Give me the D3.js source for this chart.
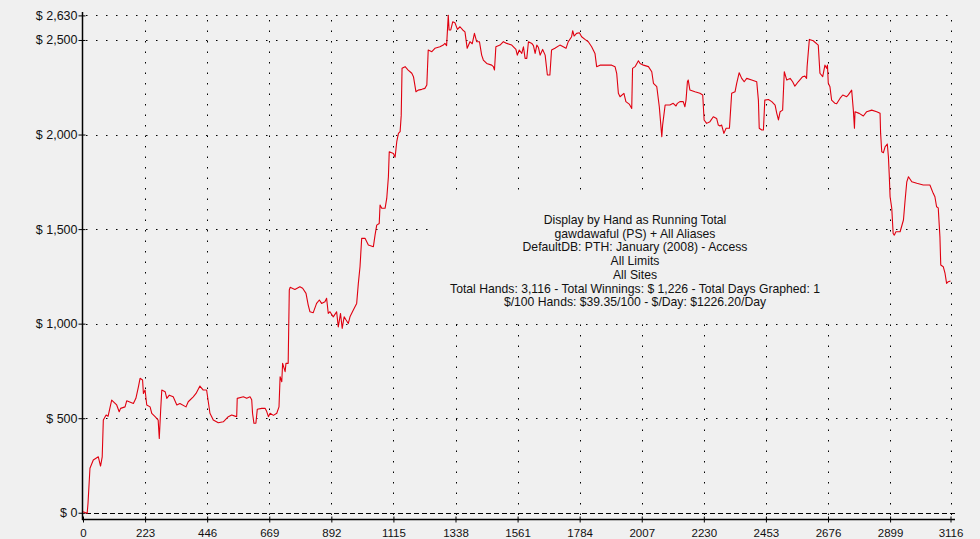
<!DOCTYPE html>
<html>
<head>
<meta charset="utf-8">
<script src="https://cdn.jsdelivr.net/npm/d3@7"></script>
<style>
    html, body { margin: 0; padding: 0; background: #f0f0f0; }
    svg { display: block; font-family: "Liberation Sans", Arial, sans-serif; }
</style>
</head>
<body>
<svg class="main" width="980" height="539"></svg>
<script>
'use strict';

// running total (hand number, $)
var hands = [0, 15, 18, 25, 37, 55, 63, 69, 73, 83, 90, 103, 121, 130, 135, 151, 157, 181, 190, 199,
    205, 214, 217, 223, 229, 241, 247, 259, 270, 274, 279, 283, 295, 301, 310, 324, 337, 348, 370, 378,
    396, 406, 420, 432, 444, 456, 468, 486, 504, 522, 534, 546, 552, 554, 576, 588, 600, 606, 609, 614,
    621, 626, 642, 654, 660, 666, 672, 684, 696, 704, 708, 714, 717, 726, 729, 737, 741, 744, 761, 779,
    789, 801, 809, 815, 827, 839, 849, 857, 869, 875, 881, 887, 899, 911, 917, 925, 931, 938, 945, 953,
    959, 971, 983, 989, 995, 1001, 1013, 1025, 1043, 1049, 1055, 1064, 1067, 1073, 1085, 1091, 1097, 1100, 1115, 1121,
    1127, 1133, 1139, 1143, 1146, 1157, 1168, 1181, 1187, 1196, 1204, 1217, 1228, 1235, 1240, 1253, 1264, 1282, 1294, 1300,
    1306, 1312, 1315, 1321, 1328, 1336, 1345, 1354, 1364, 1372, 1380, 1390, 1398, 1406, 1414, 1424, 1432, 1438, 1450, 1468,
    1474, 1478, 1483, 1498, 1510, 1522, 1540, 1555, 1560, 1567, 1576, 1582, 1588, 1594, 1600, 1612, 1618, 1624, 1630, 1636,
    1642, 1651, 1660, 1668, 1677, 1683, 1695, 1713, 1725, 1735, 1743, 1755, 1759, 1764, 1773, 1783, 1791, 1803, 1815, 1827,
    1839, 1845, 1857, 1881, 1899, 1911, 1917, 1923, 1929, 1943, 1950, 1962, 1971, 1974, 1983, 1995, 2001, 2013, 2031, 2043,
    2049, 2061, 2070, 2075, 2079, 2082, 2091, 2108, 2120, 2130, 2135, 2144, 2156, 2162, 2166, 2171, 2174, 2180, 2198, 2216,
    2226, 2231, 2240, 2252, 2264, 2276, 2282, 2288, 2294, 2302, 2310, 2322, 2330, 2342, 2348, 2357, 2366, 2375, 2384, 2402,
    2420, 2426, 2429, 2438, 2444, 2449, 2462, 2474, 2486, 2492, 2498, 2504, 2513, 2519, 2528, 2540, 2549, 2557, 2569, 2585,
    2593, 2599, 2601, 2609, 2623, 2641, 2647, 2657, 2665, 2671, 2674, 2677, 2683, 2689, 2701, 2707, 2719, 2729, 2743, 2749,
    2761, 2767, 2771, 2773, 2788, 2803, 2815, 2833, 2851, 2863, 2865, 2869, 2875, 2881, 2889, 2893, 2896, 2899, 2905, 2910,
    2914, 2920, 2935, 2947, 2953, 2959, 2965, 2977, 2995, 3018, 3042, 3054, 3060, 3066, 3072, 3078, 3081, 3090, 3096, 3102,
    3108, 3116];

var winnings = [5, -3, 50, 235, 279, 296, 247, 296, 490, 517, 510, 596, 570, 534, 552, 560, 592, 578, 605, 666,
    711, 702, 631, 649, 570, 560, 526, 508, 490, 393, 543, 649, 640, 605, 622, 613, 570, 578, 560, 587,
    613, 631, 670, 649, 649, 526, 490, 476, 481, 508, 517, 511, 508, 605, 613, 605, 613, 598, 526, 473,
    473, 547, 552, 552, 535, 508, 526, 515, 526, 560, 719, 693, 790, 746, 790, 790, 1178, 1192, 1181, 1195,
    1187, 1160, 1098, 1063, 1058, 1107, 1125, 1107, 1116, 1134, 1054, 1063, 1036, 1063, 983, 1054, 975, 1036, 1019, 1001,
    1036, 1072, 1107, 1213, 1301, 1451, 1451, 1416, 1407, 1468, 1521, 1530, 1627, 1610, 1610, 1662, 1777, 1909, 1900, 1880,
    1962, 2006, 2015, 2100, 2350, 2359, 2341, 2324, 2306, 2226, 2235, 2239, 2244, 2262, 2447, 2438, 2456, 2464, 2473, 2482,
    2470, 2630, 2553, 2553, 2596, 2591, 2556, 2570, 2553, 2543, 2456, 2491, 2480, 2535, 2491, 2491, 2420, 2394, 2376, 2367,
    2359, 2341, 2464, 2473, 2491, 2482, 2473, 2450, 2420, 2447, 2429, 2464, 2403, 2403, 2491, 2482, 2470, 2429, 2473, 2460,
    2420, 2450, 2420, 2315, 2315, 2447, 2456, 2473, 2464, 2456, 2491, 2517, 2549, 2521, 2535, 2538, 2517, 2503, 2491, 2464,
    2429, 2359, 2367, 2367, 2367, 2359, 2324, 2218, 2200, 2218, 2174, 2161, 2138, 2350, 2359, 2390, 2376, 2367, 2359, 2332,
    2271, 2253, 2147, 2059, 1988, 2050, 2156, 2156, 2165, 2151, 2165, 2174, 2174, 2147, 2182, 2279, 2288, 2235, 2226, 2218,
    2209, 2077, 2059, 2068, 2094, 2085, 2050, 2045, 2050, 2006, 2033, 2033, 2218, 2226, 2271, 2327, 2297, 2279, 2297, 2288,
    2279, 2182, 2033, 2024, 2024, 2182, 2185, 2174, 2156, 2112, 2077, 2121, 2129, 2332, 2288, 2297, 2279, 2256, 2279, 2306,
    2309, 2297, 2360, 2503, 2496, 2473, 2324, 2306, 2367, 2350, 2367, 2271, 2253, 2182, 2165, 2163, 2191, 2209, 2200, 2210,
    2235, 2129, 2033, 2120, 2112, 2098, 2121, 2129, 2121, 2112, 2006, 1909, 1904, 1935, 1950, 1882, 1786, 1671, 1610, 1477,
    1468, 1486, 1486, 1548, 1654, 1750, 1777, 1750, 1742, 1733, 1733, 1689, 1671, 1618, 1612, 1459, 1310, 1301, 1269, 1213,
    1222, 1226];

var xTicks = [0, 223, 446, 669, 892, 1115, 1338, 1561, 1784, 2007, 2230, 2453, 2676, 2899, 3116];
var yTicks = [0, 500, 1000, 1500, 2000, 2500, 2630];

var infoLines = [
    'Display by Hand as Running Total',
    'gawdawaful (PS) + All Aliases',
    'DefaultDB: PTH: January (2008) - Access',
    'All Limits',
    'All Sites',
    'Total Hands: 3,116 - Total Winnings: $ 1,226 - Total Days Graphed: 1',
    '$/100 Hands: $39.35/100 - $/Day: $1226.20/Day'
];

var svg = d3.select('svg.main');

var x = d3.scaleLinear().domain([0, 3116]).range([83, 950.5]);
var y = d3.scaleLinear().domain([-33, 2630]).range([519, 15.4]);

var plotRight = 955;
var plotBottom = y(-33);

// grid
var grid = svg.append('g').attr('class', 'grid');

grid.selectAll('.vgrid')
    .data(xTicks.slice(1))
    .enter()
    .append('line')
    .attr('class', 'vgrid')
    .attr('x1', function (d) { return Math.round(x(d)) + 0.5; })
    .attr('x2', function (d) { return Math.round(x(d)) + 0.5; })
    .attr('y1', 20)
    .attr('y2', plotBottom)
    .attr('stroke', '#000')
    .attr('stroke-dasharray', '1.5,9');

grid.selectAll('.hgrid')
    .data(yTicks)
    .enter()
    .append('line')
    .attr('class', 'hgrid')
    .attr('x1', 86)
    .attr('x2', plotRight)
    .attr('y1', function (d) { return Math.round(y(d)) + 0.5; })
    .attr('y2', function (d) { return Math.round(y(d)) + 0.5; })
    .attr('stroke', '#000')
    .attr('stroke-dasharray', function (d) { return d === 0 ? '5,3' : '1.5,8.5'; });

// info box hides the grid underneath it
var infoX = 635, infoTop = 224, lineStep = 13.7;

svg.append('rect')
    .attr('x', 428)
    .attr('y', 198)
    .attr('width', 414)
    .attr('height', 120)
    .attr('fill', '#f0f0f0');

svg.append('g')
    .attr('class', 'info')
    .selectAll('text')
    .data(infoLines)
    .enter()
    .append('text')
    .attr('x', infoX)
    .attr('y', function (d, i) { return infoTop + i * lineStep; })
    .attr('text-anchor', 'middle')
    .attr('font-size', '12.2px')
    .attr('fill', '#111')
    .text(function (d) { return d; });

// axes
var yAxis = d3.axisLeft(y)
    .tickValues(yTicks)
    .tickSize(4)
    .tickSizeOuter(0)
    .tickPadding(1)
    .tickFormat(function (d) { return '$ ' + d3.format(',')(d); });

var yAxisG = svg.append('g')
    .attr('transform', 'translate(82.5,0)')
    .call(yAxis);
yAxisG.select('.domain').remove();
yAxisG.selectAll('.tick line').attr('x1', 3).attr('stroke', '#000');
yAxisG.selectAll('.tick text')
    .attr('font-size', '12.5px')
    .attr('font-family', '"Liberation Sans", Arial, sans-serif')
    .attr('fill', '#111');

var xAxis = d3.axisBottom(x)
    .tickValues(xTicks)
    .tickSize(3)
    .tickSizeOuter(0)
    .tickPadding(6)
    .tickFormat(d3.format('d'));

var xAxisG = svg.append('g')
    .attr('transform', 'translate(0,' + (plotBottom + 0.5) + ')')
    .call(xAxis);
xAxisG.select('.domain').remove();
xAxisG.selectAll('.tick line').attr('y1', -3).attr('stroke', '#000');
xAxisG.selectAll('.tick text')
    .attr('font-size', '11.5px')
    .attr('font-family', '"Liberation Sans", Arial, sans-serif')
    .attr('fill', '#111');

svg.append('line')
    .attr('x1', 82.5).attr('x2', 82.5)
    .attr('y1', 12).attr('y2', plotBottom + 1)
    .attr('stroke', '#000')
    .attr('stroke-width', 1.5);

svg.append('line')
    .attr('x1', 82).attr('x2', plotRight)
    .attr('y1', plotBottom + 0.5).attr('y2', plotBottom + 0.5)
    .attr('stroke', '#000')
    .attr('stroke-width', 1.5);

// running total line
var points = hands.map(function (h, i) { return [h, winnings[i]]; });

var line = d3.line()
    .x(function (d) { return x(d[0]); })
    .y(function (d) { return y(d[1]); });

svg.append('path')
    .datum(points)
    .attr('d', line)
    .attr('fill', 'none')
    .attr('stroke', '#e00010')
    .attr('stroke-width', 1.1)
    .attr('stroke-linejoin', 'round');
</script>
</body>
</html>
